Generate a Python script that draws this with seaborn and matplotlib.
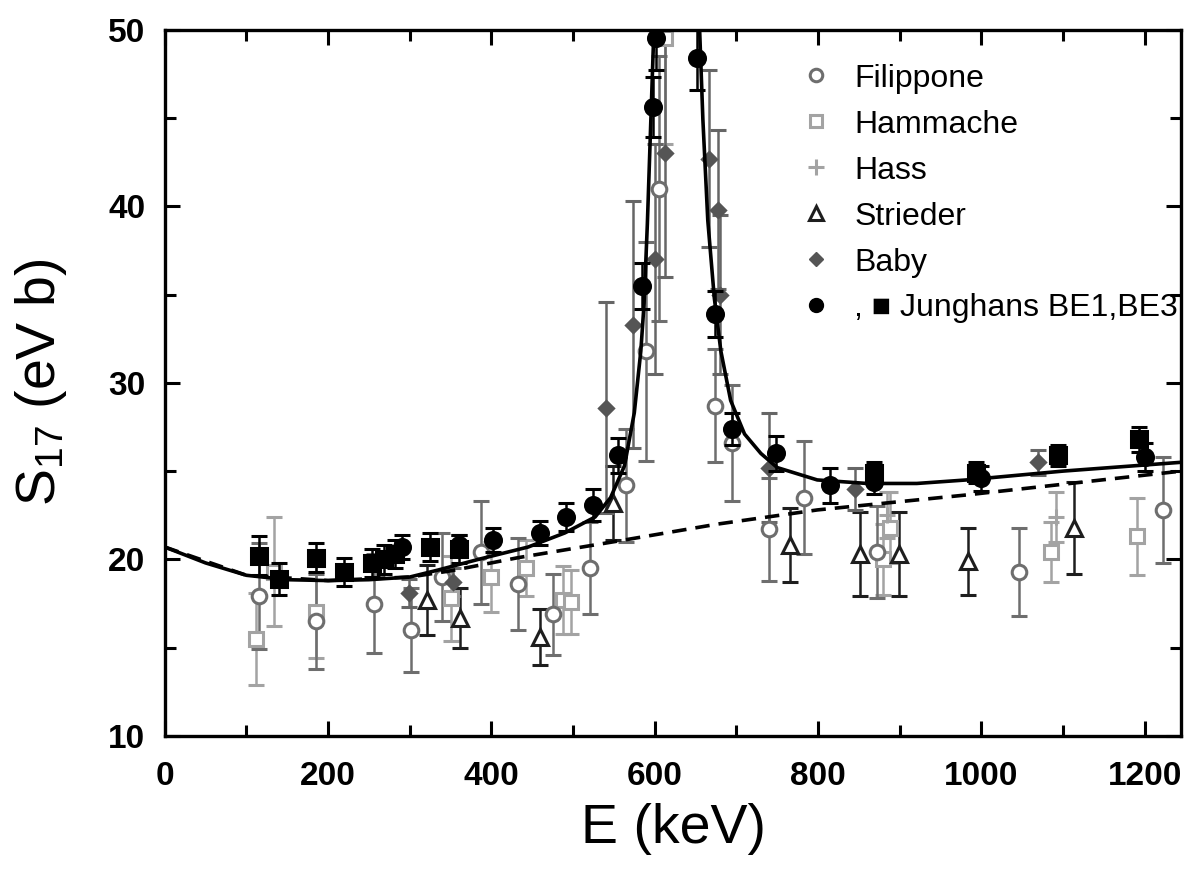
import matplotlib
matplotlib.use("Agg")
import matplotlib.pyplot as plt
from matplotlib.lines import Line2D
from matplotlib.ticker import MultipleLocator
import pandas as pd
import seaborn as sns

# ---------------------------------------------------------
# Data (E in keV, S17 in eV b)
# ---------------------------------------------------------
fil_E = [116, 185, 256, 301, 339, 387, 433, 476, 521, 565, 589, 605, 674, 695, 740, 783, 872, 1046, 1222]
fil_S = [17.9, 16.5, 17.5, 16.0, 19.0, 20.4, 18.6, 16.9, 19.5, 24.2, 31.8, 41.0, 28.7, 26.6, 21.7, 23.5, 20.4, 19.3, 22.8]
fil_err = [3.0, 2.7, 2.8, 2.4, 2.5, 2.9, 2.6, 2.3, 2.6, 3.2, 6.2, 7.5, 3.2, 3.3, 2.9, 3.2, 2.6, 2.5, 3.0]

ham_E = [112, 134, 185, 350, 399, 443, 488, 498, 612, 880, 888, 1085, 1191]
ham_S = [15.5, 19.3, 17.0, 17.8, 19.0, 19.5, 17.7, 17.6, 49.5, 20.0, 21.8, 20.4, 21.3]
ham_err = [2.6, 3.1, 2.6, 2.4, 2.0, 1.6, 1.9, 1.8, 6.0, 2.0, 2.0, 1.7, 2.2]

hass_E = [885, 1092]
hass_S = [22.5, 22.4]
hass_err = [1.3, 1.4]

str_E = [321, 362, 460, 549, 766, 851, 899, 984, 1114]
str_S = [17.7, 16.7, 15.6, 23.2, 20.8, 20.3, 20.3, 19.9, 21.8]
str_err = [2.0, 1.7, 1.6, 2.1, 2.1, 2.4, 2.4, 1.9, 2.6]

baby_E = [299, 353, 540, 573, 600, 612, 667, 677, 680, 740, 845, 1069]
baby_S = [18.1, 18.7, 28.6, 33.3, 37.0, 43.0, 42.7, 39.8, 35.0, 25.2, 24.0, 25.5]
baby_err = [0.8, 0.8, 6.0, 7.0, 6.5, 7.0, 5.0, 4.5, 4.5, 3.1, 1.2, 0.7]

be1_E = [290, 360, 402, 460, 491, 524, 555, 585, 598, 601, 652, 674, 695, 748, 815, 868, 1000, 1200]
be1_S = [20.7, 20.8, 21.1, 21.5, 22.4, 23.1, 25.9, 35.5, 45.6, 49.5, 48.4, 33.9, 27.4, 26.0, 24.2, 24.4, 24.6, 25.8]
be1_err = [0.7, 0.6, 0.7, 0.7, 0.8, 0.9, 1.0, 1.3, 1.7, 1.8, 1.8, 1.3, 0.9, 1.0, 1.0, 0.7, 0.7, 0.8]

be3_E = [116, 140, 185, 220, 254, 268, 282, 325, 360, 868, 994, 1094, 1193]
be3_S = [20.2, 18.9, 20.1, 19.3, 19.8, 20.0, 20.3, 20.7, 20.6, 24.9, 24.9, 25.9, 26.8]
be3_err = [1.1, 0.9, 0.8, 0.8, 0.8, 0.8, 0.8, 0.8, 0.8, 0.6, 0.6, 0.6, 0.7]

# fit curves
fit_E = [0, 50, 100, 150, 200, 250, 300, 335, 384, 445, 490, 527, 546, 563, 575, 583, 587,
         591, 595, 599, 601, 652, 655, 659, 665, 673, 681, 693, 710, 730, 750, 799, 860,
         921, 982, 1100, 1245]
fit_S = [20.7, 19.8, 19.1, 18.85, 18.8, 18.85, 19.0, 19.4, 20.0, 20.7, 21.5, 22.4, 23.5,
         25.3, 28.3, 31.8, 34.5, 39.0, 44.5, 50.0, 52.0, 52.0, 50.0, 44.9, 39.2, 34.8,
         31.8, 29.0, 27.1, 26.0, 25.2, 24.5, 24.3, 24.3, 24.5, 25.0, 25.5]

nonres_E = [0, 100, 200, 300, 350, 433, 563, 677, 799, 982, 1245]
nonres_S = [20.7, 19.1, 18.8, 19.0, 19.35, 20.1, 21.1, 22.0, 22.8, 23.65, 25.0]

# ---------------------------------------------------------
# Style
# ---------------------------------------------------------
sns.set_style("ticks")
plt.rcParams["font.family"] = ["Liberation Sans", "DejaVu Sans"]
plt.rcParams["text.color"] = "black"
plt.rcParams["axes.labelcolor"] = "black"
plt.rcParams["xtick.color"] = "black"
plt.rcParams["ytick.color"] = "black"
plt.rcParams["mathtext.fontset"] = "custom"
plt.rcParams["mathtext.rm"] = "Liberation Sans"
plt.rcParams["mathtext.it"] = "Liberation Sans"

fig = plt.figure(figsize=(11.85, 8.72), dpi=100)
ax = fig.add_axes([0.139, 0.156, 0.858, 0.81])

# ---------------------------------------------------------
# Curves
# ---------------------------------------------------------
fit_df = pd.DataFrame({"E": fit_E, "S": fit_S})
nonres_df = pd.DataFrame({"E": nonres_E, "S": nonres_S})
sns.lineplot(data=nonres_df, x="E", y="S", ax=ax, color="black", lw=2.6,
             linestyle=(0, (4, 2.5)), sort=False, zorder=3)
sns.lineplot(data=fit_df, x="E", y="S", ax=ax, color="black", lw=2.6,
             sort=False, zorder=3)

# ---------------------------------------------------------
# Data sets with error bars
# ---------------------------------------------------------
eb = dict(linestyle="none", capsize=6, elinewidth=1.8, capthick=1.8,
          markeredgewidth=2.2)

ax.errorbar(ham_E, ham_S, yerr=ham_err, marker="s", ms=10, mfc="white",
            mec="#a3a3a3", color="#a3a3a3", zorder=2, **eb)
ax.errorbar(hass_E, hass_S, yerr=hass_err, marker="+", ms=12, color="#a3a3a3",
            zorder=2, **eb)
ax.errorbar(fil_E, fil_S, yerr=fil_err, marker="o", ms=10.5, mfc="white",
            mec="#6e6e6e", color="#6e6e6e", zorder=2, **eb)
ax.errorbar(str_E, str_S, yerr=str_err, marker="^", ms=11, mfc="white",
            mec="#1e1e1e", color="#1e1e1e", zorder=2, **eb)
ax.errorbar(baby_E, baby_S, yerr=baby_err, marker="D", ms=7.5, mfc="#555555",
            mec="#555555", color="#666666", zorder=2, **eb)
ax.errorbar(be1_E, be1_S, yerr=be1_err, marker="o", ms=11.5, mfc="black",
            mec="black", color="black", zorder=4, **eb)
ax.errorbar(be3_E, be3_S, yerr=be3_err, marker="s", ms=11, mfc="black",
            mec="black", color="black", zorder=4, **eb)

# ---------------------------------------------------------
# Axes
# ---------------------------------------------------------
ax.set_xlim(0, 1245)
ax.set_ylim(10, 50)
ax.xaxis.set_major_locator(MultipleLocator(200))
ax.xaxis.set_minor_locator(MultipleLocator(100))
ax.yaxis.set_major_locator(MultipleLocator(10))
ax.yaxis.set_minor_locator(MultipleLocator(5))
ax.tick_params(which="both", direction="in", top=True, right=True, width=2.2,
               labelsize=24, color="black", labelcolor="black")
ax.tick_params(axis="x", which="both", pad=18)
ax.tick_params(axis="y", which="both", pad=14)
ax.tick_params(which="major", length=11)
ax.tick_params(which="minor", length=8)
for lab in ax.get_xticklabels() + ax.get_yticklabels():
    lab.set_fontweight("bold")
for sp in ax.spines.values():
    sp.set_linewidth(2.4)
    sp.set_color("black")

ax.set_xlabel("E (keV)", fontsize=40, labelpad=8)
ax.set_ylabel("S$_{17}$ (eV b)", fontsize=40, labelpad=28)

# ---------------------------------------------------------
# Legend
# ---------------------------------------------------------
handles = [
    Line2D([], [], ls="none", marker="o", ms=9, mfc="white", mec="#6e6e6e", mew=2.2),
    Line2D([], [], ls="none", marker="s", ms=9, mfc="white", mec="#a3a3a3", mew=2.2),
    Line2D([], [], ls="none", marker="+", ms=11, color="#a3a3a3", mew=2.2),
    Line2D([], [], ls="none", marker="^", ms=10, mfc="white", mec="#1e1e1e", mew=2.2),
    Line2D([], [], ls="none", marker="D", ms=7, mfc="#555555", mec="#555555"),
    Line2D([], [], ls="none", marker="o", ms=10, mfc="black", mec="black"),
]
labels = ["Filippone", "Hammache", "Hass", "Strieder", "Baby", ", \u25a0 Junghans BE1,BE3"]
ax.legend(handles, labels, loc="upper left", bbox_to_anchor=(0.612, 0.97),
          frameon=False, handlelength=1.0, handletextpad=0.7,
          labelspacing=0.5, borderaxespad=0,
          prop={"family": ["Liberation Sans", "DejaVu Sans"], "size": 23})

fig.savefig("out.png", dpi=100)
